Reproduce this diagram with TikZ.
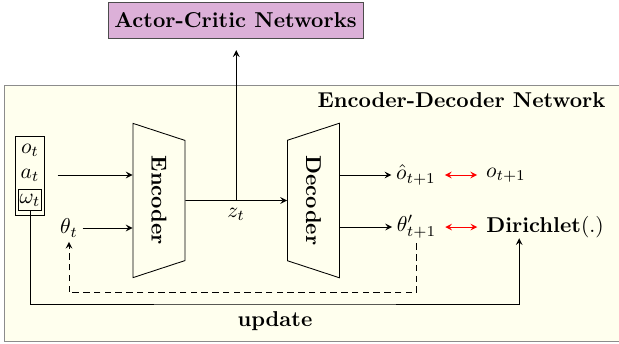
\documentclass[tikz,border=0pt]{standalone}
\usetikzlibrary{shapes.geometric,fit}
\definecolor{acpurple}{RGB}{220,176,216}
\definecolor{edyellow}{RGB}{255,255,238}

\begin{document}
\begin{tikzpicture}[x=0.465pt,y=-0.465pt,
  coder/.style={draw,trapezium,rotate=-90,trapezium stretches=true,minimum width=72pt,minimum height=24.2pt,font=\bfseries},
  lbl/.style={inner sep=2pt}]
\useasboundingbox (0,0) rectangle (619,343);

% background of the encoder-decoder part
\draw[black!45,fill=edyellow] (4,85) rectangle (660,341);
\node (title) at (613,107) [anchor=base east] {\textbf{Encoder-Decoder Network}};

\node (ac) at (235.5,20) [draw=black!70,fill=acpurple,minimum width=118.6pt,minimum height=16.7pt,inner xsep=2pt] {\textbf{Actor-Critic Networks}};

% inputs
\node (obs) at (30,153) [anchor=base,inner sep=1pt] {$o_t$};
\node (act) at (30,178) [anchor=base,inner sep=1pt] {$a_t$};
\node (om) at (30,203) [anchor=base,draw,inner xsep=0.6pt,inner ysep=2pt] {$\omega_t$};
\node (inp) [draw,fit=(obs)(om),inner xsep=1pt,inner ysep=2pt] {};
\node (th) at (69,228) [lbl] {$\theta_t$};

% encoder and decoder
\node (enc) at (159,200.5) [coder,trapezium angle=63.4] {Encoder};
\node (dec) at (313.5,200.5) [coder,trapezium angle=116.6] {Decoder};

\draw[->,>=stealth,shorten <=6pt] (inp.east |- act) -- (enc.south |- act);
\draw[->,>=stealth] (th.east) -- (enc.south |- th.east);
\draw[->,>=stealth] (enc.north) -- coordinate[midway] (zmid) node[below] (zlbl) {$z_t$} (dec.south);
\draw[->,>=stealth,shorten >=5.5pt] (zmid) -- (zmid |- ac.south);

% outputs
\node (ohat) at (416,175) [lbl] {$\hat{o}_{t+1}$};
\node (onext) at (506,175) [lbl] {$o_{t+1}$};
\node (thn) at (416.5,227) [lbl] {$\theta'_{t+1}$};
\node (dir) at (545,227) [lbl] {\textbf{Dirichlet}$(.)$};

\draw[->,>=stealth] (dec.north |- ohat.west) -- (ohat.west);
\draw[->,>=stealth] (dec.north |- thn.west) -- (thn.west);
\draw[<->,>=stealth,red,shorten <=2pt,shorten >=2pt] (ohat.east) -- (onext.west);
\draw[<->,>=stealth,red,shorten <=2pt,shorten >=2pt] (thn.east) -- (dir.west);

% feedback
\draw[->,>=stealth,densely dashed] (thn.south) -- ++(0,-23pt) -| (th.south);
\node (upd) at (275,304) [anchor=north] {\textbf{update}};
\coordinate (dirin) at ([xshift=-12pt,yshift=2pt]dir.south);
\draw[->,>=stealth] (om.south) |- (upd.north) -| (dirin);

\end{tikzpicture}
\end{document}
